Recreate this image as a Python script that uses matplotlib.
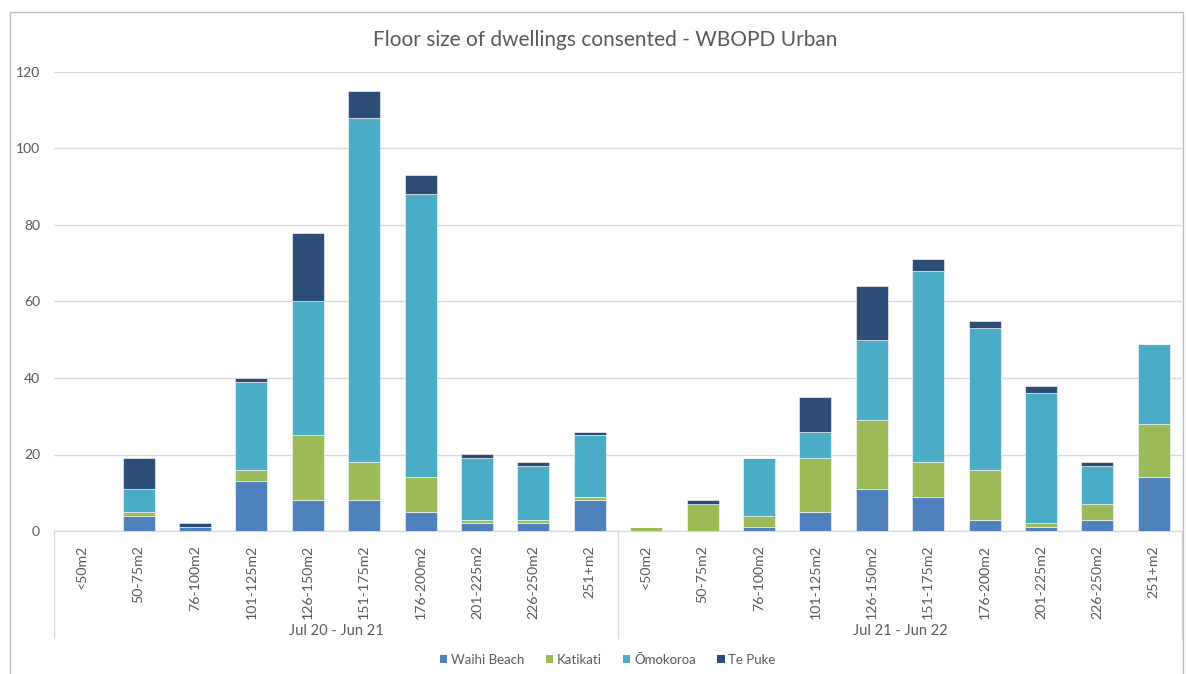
import matplotlib
matplotlib.use("Agg")
import matplotlib.pyplot as plt
import matplotlib.transforms as mtransforms
from matplotlib.patches import Patch, Rectangle
import numpy as np

plt.rcParams['font.family'] = ['Lato', 'DejaVu Sans']

# data
sizes = ['<50m2', '50-75m2', '76-100m2', '101-125m2', '126-150m2',
         '151-175m2', '176-200m2', '201-225m2', '226-250m2', '251+m2']
periods = ['Jul 20 - Jun 21', 'Jul 21 - Jun 22']

waihi_beach = [0, 4, 1, 13, 8, 8, 5, 2, 2, 8,
               0, 0, 1, 5, 11, 9, 3, 1, 3, 14]
katikati = [0, 1, 0, 3, 17, 10, 9, 1, 1, 1,
            1, 7, 3, 14, 18, 9, 13, 1, 4, 14]
omokoroa = [0, 6, 0, 23, 35, 90, 74, 16, 14, 16,
            0, 0, 15, 7, 21, 50, 37, 34, 10, 21]
te_puke = [0, 8, 1, 1, 18, 7, 5, 1, 1, 1,
           0, 1, 0, 9, 14, 3, 2, 2, 1, 0]

series = ['Waihi Beach', 'Katikati', 'Ōmokoroa', 'Te Puke']
colors = ['#4F81BD', '#9BBB59', '#4BACC6', '#2C4D75']

W, H = 1186, 674
fig = plt.figure(figsize=(W / 100, H / 100), dpi=100)
ax = fig.add_axes([54 / W, 1 - 531 / H, 1128 / W, 459 / H])

x = np.arange(len(sizes) * len(periods))
bottom = np.zeros(len(x))
for name, vals, col in zip(series, [waihi_beach, katikati, omokoroa, te_puke], colors):
    vals = np.array(vals, dtype=float)
    ax.bar(x, vals, 0.57, bottom=bottom, color=col, edgecolor='white',
           linewidth=0.4, label=name, zorder=3)
    bottom += vals

ax.set_xlim(-0.5, len(x) - 0.5)
ax.set_ylim(0, 120)
ax.set_yticks(range(0, 121, 20))
ax.yaxis.grid(True, color='#d9d9d9', linewidth=1)
ax.set_axisbelow(True)
for s in ['top', 'right', 'left']:
    ax.spines[s].set_visible(False)
ax.spines['bottom'].set_color('#d9d9d9')
ax.tick_params(axis='y', length=0, labelsize=10, labelcolor='#595959', pad=10)
ax.set_xticks(x)
ax.set_xticklabels(sizes * len(periods), rotation=90, fontsize=10.2, color='#595959')
ax.tick_params(axis='x', length=0, pad=10)

# group separators and labels under the category axis
trans = mtransforms.blended_transform_factory(ax.transData, ax.transAxes)
for b in [-0.5, len(sizes) - 0.5, len(x) - 0.5]:
    ax.plot([b, b], [0, -0.233], transform=trans, color='#d9d9d9',
            linewidth=1, clip_on=False)
for i, p in enumerate(periods):
    ax.text(i * len(sizes) + (len(sizes) - 1) / 2, -0.217, p, transform=trans,
            ha='center', va='center', fontsize=10.5, color='#595959')

fig.text(605 / W, 1 - 40 / H, 'Floor size of dwellings consented - WBOPD Urban',
         ha='center', va='center', fontsize=15, color='#595959')

handles = [Patch(facecolor=c, label=n) for n, c in zip(series, colors)]
fig.legend(handles=handles, loc='center', bbox_to_anchor=(608 / W, 1 - 660 / H),
           ncol=4, frameon=False, fontsize=9.5, labelcolor='#595959',
           handlelength=0.55, handleheight=0.55, handletextpad=0.3, columnspacing=1.6)

fig.add_artist(Rectangle((10 / W, -0.01), 1173 / W, (H - 12) / H + 0.01,
                         transform=fig.transFigure, fill=False,
                         edgecolor='#bfbfbf', linewidth=1))

fig.savefig('out.png', dpi=100)
